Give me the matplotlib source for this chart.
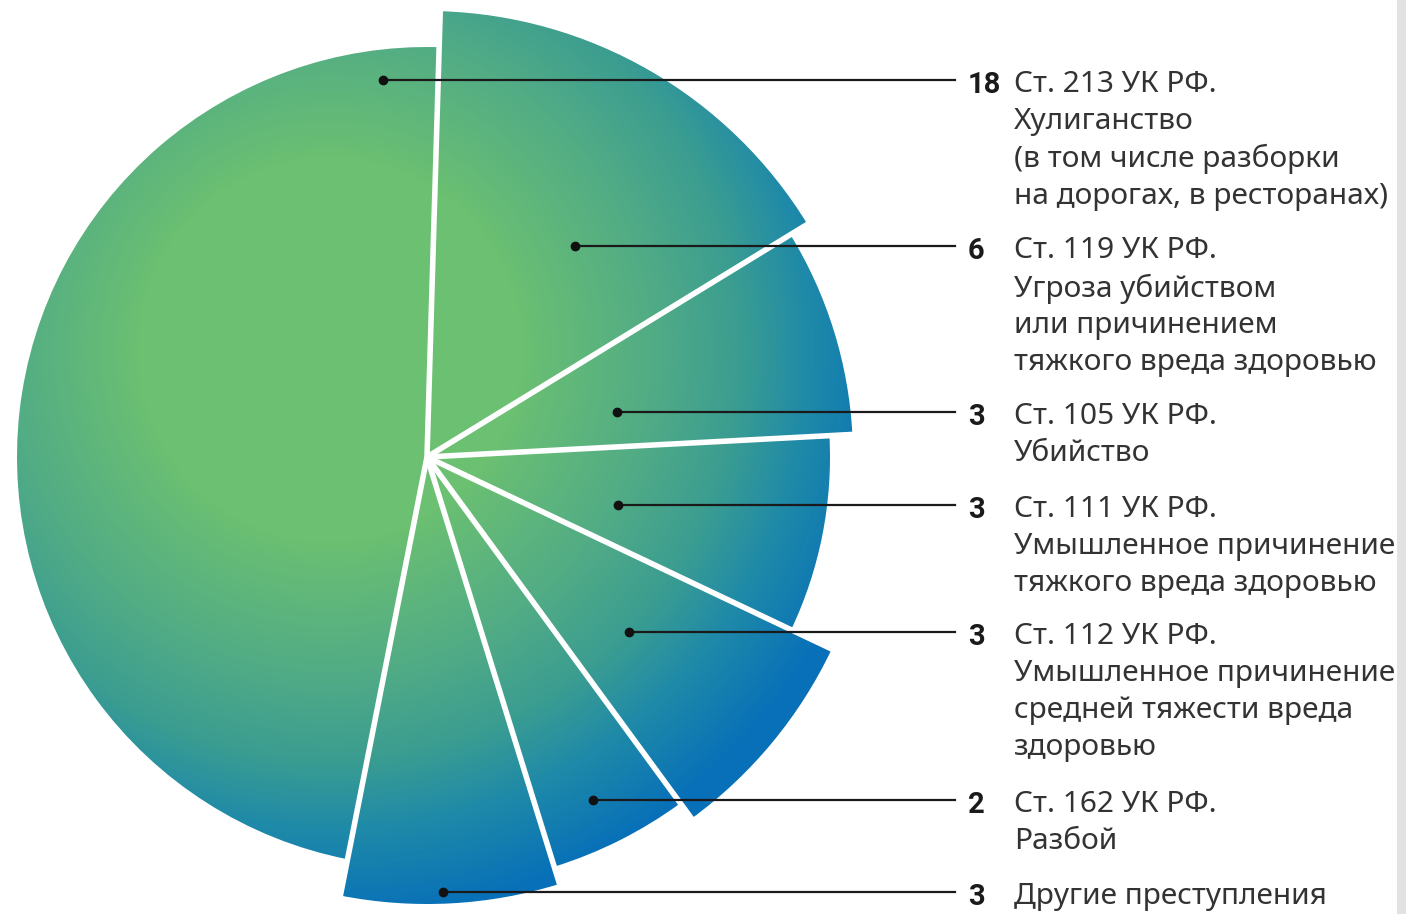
import numpy as np
import matplotlib
matplotlib.use("Agg")
import matplotlib.pyplot as plt
from matplotlib.patches import Wedge, Rectangle
from matplotlib.colors import LinearSegmentedColormap

# data: clockwise from the top
counts = [6, 3, 3, 3, 2, 3, 18]
numbers = ["6", "3", "3", "3", "2", "3", "18"]
labels = [
    "Ст. 119 УК РФ.\nУгроза убийством\nили причинением\nтяжкого вреда здоровью",
    "Ст. 105 УК РФ.\nУбийство",
    "Ст. 111 УК РФ.\nУмышленное причинение\nтяжкого вреда здоровью",
    "Ст. 112 УК РФ.\nУмышленное причинение\nсредней тяжести вреда\nздоровью",
    "Ст. 162 УК РФ.\nРазбой",
    "Другие преступления",
    "Ст. 213 УК РФ.\nХулиганство\n(в том числе разборки\nна дорогах, в ресторанах)",
]

# layout (pixels)
W, H = 1406, 914
cx, cy = 427, H - 457
radii = [446, 426, 403, 448, 429, 447, 410]
start_angle = 88.3
dot_x = [575, 617, 618, 629, 593, 443, 383]
label_y = [246, 412, 505, 632, 800, 892, 80]

fig = plt.figure(figsize=(W / 100, H / 100), dpi=100)
ax = fig.add_axes([0, 0, 1, 1])
ax.set_xlim(0, W)
ax.set_ylim(0, H)
ax.axis("off")

# radial gradient, centre shifted up-left of the pie centre
dmax = 570.0
stops = [(0, "#6bc071"), (190, "#6bc071"), (320, "#52ac85"), (410, "#3b9d91"),
         (480, "#1f8aa8"), (570, "#0870b8")]
cmap = LinearSegmentedColormap.from_list("gb", [(d / dmax, c) for d, c in stops])
xx, yy = np.meshgrid(np.arange(W) + 0.5, np.arange(H) + 0.5)
gx, gy = 330, H - 350
grad = np.clip(np.hypot(xx - gx, yy - gy) / dmax, 0, 1)

total = sum(counts)
angles = [start_angle]
for c in counts:
    angles.append(angles[-1] - 360.0 * c / total)

for i, c in enumerate(counts):
    t1, t2 = angles[i + 1], angles[i]
    w = Wedge((cx, cy), radii[i], t1, t2, facecolor="none", edgecolor="none")
    ax.add_patch(w)
    im = ax.imshow(grad, cmap=cmap, vmin=0, vmax=1, extent=(0, W, 0, H),
                   origin="lower", interpolation="bilinear", zorder=1)
    im.set_clip_path(w)

# white separators between slices
for i in range(len(counts)):
    a = np.deg2rad(angles[i])
    r = max(radii[i], radii[i - 1]) + 5
    ax.plot([cx, cx + r * np.cos(a)], [cy, cy + r * np.sin(a)],
            color="white", lw=4, solid_capstyle="butt", zorder=3)

# leader lines, dots and labels
for i in range(len(counts)):
    y = H - label_y[i]
    ax.plot([dot_x[i], 955], [y, y], color="#1a1a1a", lw=1.6, zorder=4)
    ax.plot(dot_x[i], y, "o", color="#111111", ms=6, zorder=5)
    ax.text(968, y - 13, numbers[i], fontsize=21, fontweight="bold",
            color="#1a1a1a", family="Roboto", va="baseline", ha="left")
    ax.text(1014, y + 10, labels[i], fontsize=21.5, color="#333333",
            family="Noto Sans", va="top", ha="left", linespacing=1.36)

# grey strip at the right edge
fig.patches.append(Rectangle((1397 / W, 0), 9 / W, 1, transform=fig.transFigure,
                             facecolor="#e2e2e2", edgecolor="none"))

fig.savefig("out.png", dpi=100, facecolor="white")
